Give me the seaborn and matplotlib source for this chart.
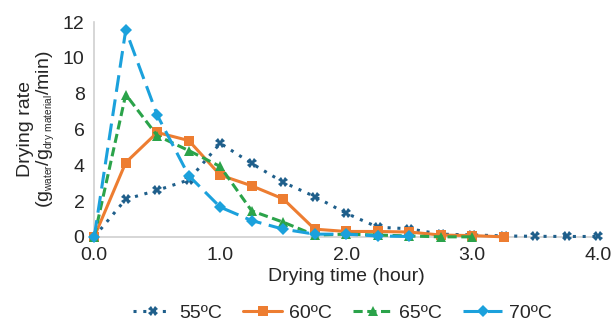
import numpy as np
import pandas as pd
import seaborn as sns
import matplotlib
matplotlib.use("Agg")
import matplotlib.pyplot as plt
import matplotlib._mathtext as mathtext_internals

# drying time in hours, one reading every 15 min
time_55 = [0.0, 0.25, 0.5, 0.75, 1.0, 1.25, 1.5, 1.75, 2.0, 2.25, 2.5, 2.75, 3.0, 3.25, 3.5, 3.75, 4.0]
rate_55 = [0.0, 2.1, 2.6, 3.18, 5.23, 4.1, 3.05, 2.25, 1.32, 0.54, 0.45, 0.15, 0.11, 0.05, 0.03, 0.02, 0.02]

time_60 = [0.0, 0.25, 0.5, 0.75, 1.0, 1.25, 1.5, 1.75, 2.0, 2.25, 2.5, 2.75, 3.0, 3.25]
rate_60 = [0.0, 4.15, 5.83, 5.38, 3.45, 2.85, 2.12, 0.43, 0.3, 0.3, 0.27, 0.1, 0.07, 0.0]

time_65 = [0.0, 0.25, 0.5, 0.75, 1.0, 1.25, 1.5, 1.75, 2.0, 2.25, 2.5, 2.75, 3.0]
rate_65 = [0.0, 7.95, 5.65, 4.82, 3.93, 1.45, 0.82, 0.1, 0.15, 0.1, 0.05, 0.0, 0.0]

time_70 = [0.0, 0.25, 0.5, 0.75, 1.0, 1.25, 1.5, 1.75, 2.0, 2.25, 2.5]
rate_70 = [0.0, 11.55, 6.8, 3.42, 1.66, 0.91, 0.43, 0.15, 0.15, 0.05, 0.02]

labels = ["55ºC", "60ºC", "65ºC", "70ºC"]

sns.set_theme(style="white")
plt.rcParams["font.family"] = ["Liberation Sans", "DejaVu Sans"]
plt.rcParams["mathtext.fontset"] = "custom"
plt.rcParams["mathtext.rm"] = "Liberation Sans"
# smaller subscripts, like the original
mathtext_internals.SHRINK_FACTOR = 0.52

fig = plt.figure(figsize=(6.16, 3.24), dpi=100)
ax = fig.add_axes([0.153, 0.269, 0.818, 0.663])

styles = [
    dict(color="#1f5f8b", linestyle=(0, (1, 2.2)), marker="X", markersize=6.5, linewidth=2.2),
    dict(color="#ed7d31", linestyle="-", marker="s", markersize=7, linewidth=2.2),
    dict(color="#2ba34a", linestyle=(0, (3, 1.5)), marker="^", markersize=7, linewidth=2.2),
    dict(color="#1ba1dc", linestyle=(0, (5.5, 2.5)), marker="D", markersize=6, linewidth=2.2),
]
series = [(time_55, rate_55), (time_60, rate_60), (time_65, rate_65), (time_70, rate_70)]

for (t, r), lab, st in zip(series, labels, styles):
    df = pd.DataFrame({"time": t, "rate": r})
    sns.lineplot(data=df, x="time", y="rate", ax=ax, label=lab,
                 markeredgewidth=0, clip_on=False, zorder=3, **st)

ax.set_xlim(0, 4)
ax.set_ylim(0, 12)
ax.set_xticks([0, 1, 2, 3, 4])
ax.set_xticklabels([f"{v:.1f}" for v in [0, 1, 2, 3, 4]])
ax.set_yticks(range(0, 13, 2))

for side in ["top", "right"]:
    ax.spines[side].set_visible(False)
for side in ["left", "bottom"]:
    ax.spines[side].set_color("#d0d0d0")
    ax.spines[side].set_linewidth(1.2)
ax.tick_params(axis="both", which="major", direction="out", length=4, width=1.2,
               color="#d0d0d0", labelsize=14, labelcolor="#262626", pad=3)

ax.set_xlabel("Drying time (hour)", fontsize=14, color="#262626", labelpad=3)
ax.set_ylabel("Drying rate\n(g$_{\\mathrm{water}}$/g$_{\\mathrm{dry\\ material}}$/min)",
              fontsize=14, color="#262626", labelpad=4, linespacing=1.1)

leg = ax.legend(loc="center", bbox_to_anchor=(0.493, -0.354), ncol=4, frameon=False,
                fontsize=14, handlelength=2.0, columnspacing=1.1, handletextpad=0.35,
                borderaxespad=0, borderpad=0)
for txt in leg.get_texts():
    txt.set_color("#262626")

fig.savefig("out.png", dpi=100)
